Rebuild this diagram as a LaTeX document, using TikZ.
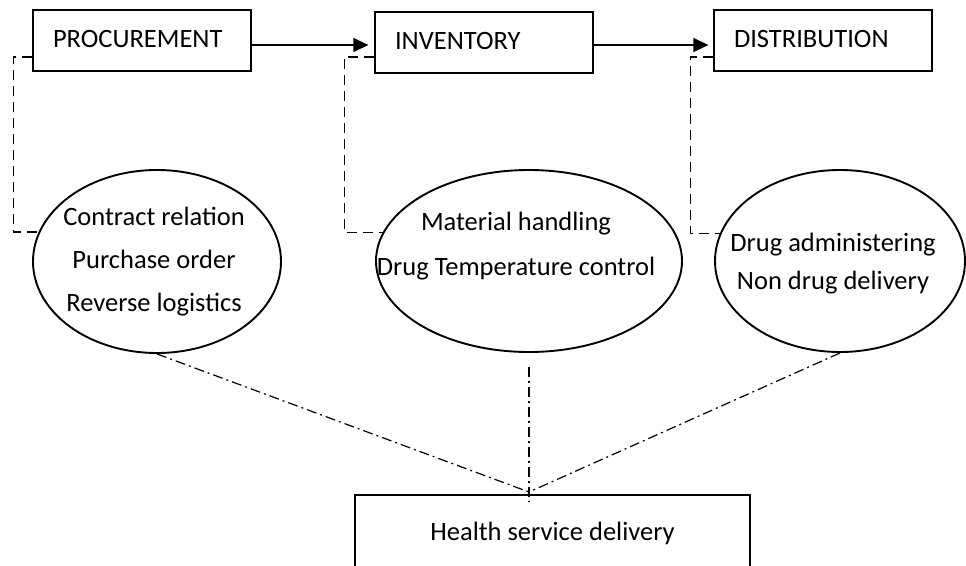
\documentclass[tikz,border=0pt]{standalone}
\usepackage{fontspec}
\setmainfont{Carlito}
\usepackage{tikz}
\usetikzlibrary{arrows.meta}
\usetikzlibrary{shapes.geometric}

\begin{document}
\begin{tikzpicture}[x=1pt, y=-1pt, font=\fontsize{26.5}{31}\selectfont,
	stage/.style={draw, line width=1.3pt, minimum height=61pt, text width=178pt, inner xsep=20pt, text depth=4pt, align=left},
	activity/.style={draw, ellipse, line width=1.9pt, inner sep=0pt},
	flow/.style={-{Triangle[length=15pt,width=14pt]}, line width=1.3pt},
	link/.style={line width=1.2pt, dash pattern=on 10pt off 6pt},
	impact/.style={line width=1.2pt, dash pattern=on 10pt off 4pt on 2pt off 4pt}]
			\useasboundingbox (0,0) rectangle (966,565);
			\clip (0,0) rectangle (966,565);
			\foreach \name/\x/\y/\txt in {proc/142/40.5/PROCUREMENT, inv/484/42.5/INVENTORY, dist/823/40.5/DISTRIBUTION}
			{
				\node[stage] (\name) at (\x,\y) {\txt};
			}
			\node[activity, minimum width=248pt, minimum height=183pt] (e1) at (157,261.5) {};
			\node[activity, minimum width=306pt, minimum height=182pt] (e2) at (529,261) {};
			\node[activity, minimum width=250pt, minimum height=182pt] (e3) at (840,261) {};
			\node[align=center, font=\fontsize{26.5}{43}\selectfont] (t1) at (154,262) {Contract relation\\Purchase order\\Reverse logistics};
			\node[align=center, font=\fontsize{26.5}{45}\selectfont] (t2) at (516,246) {Material handling\\Drug Temperature control};
			\node[align=center, font=\fontsize{26.5}{38}\selectfont] (t3) at (833,264) {Drug administering\\Non drug delivery};
			\node[draw, line width=1.9pt, minimum width=395pt, minimum height=76pt] (hsd) at (552.5,533) {Health service delivery};
			\coordinate (hub) at (529,492);
			\draw[flow] ([yshift=-4.5pt]proc.east) -- ([xshift=-6pt,yshift=-2.5pt]inv.west);
			\draw[flow] ([yshift=-2.5pt]inv.east) -- ([xshift=-5pt,yshift=-4.5pt]dist.west);
			\draw[link] ([yshift=-16.5pt]proc.west) -- ++(-19pt,0) |- (e1.166);
			\draw[link] ([yshift=-14.5pt]inv.west) -- ++(-30pt,0) |- (e2.169);
			\draw[link] ([yshift=-16.5pt]dist.west) -- ++(-23pt,0) |- (e3.167);
			\draw[impact] (e1.south) -- (hub);
			\draw[impact] ([yshift=-14pt]e2.south) -- ([yshift=-10pt]hub);
			\draw[impact] (e3.south) -- (hub);
		\end{tikzpicture}
\end{document}
